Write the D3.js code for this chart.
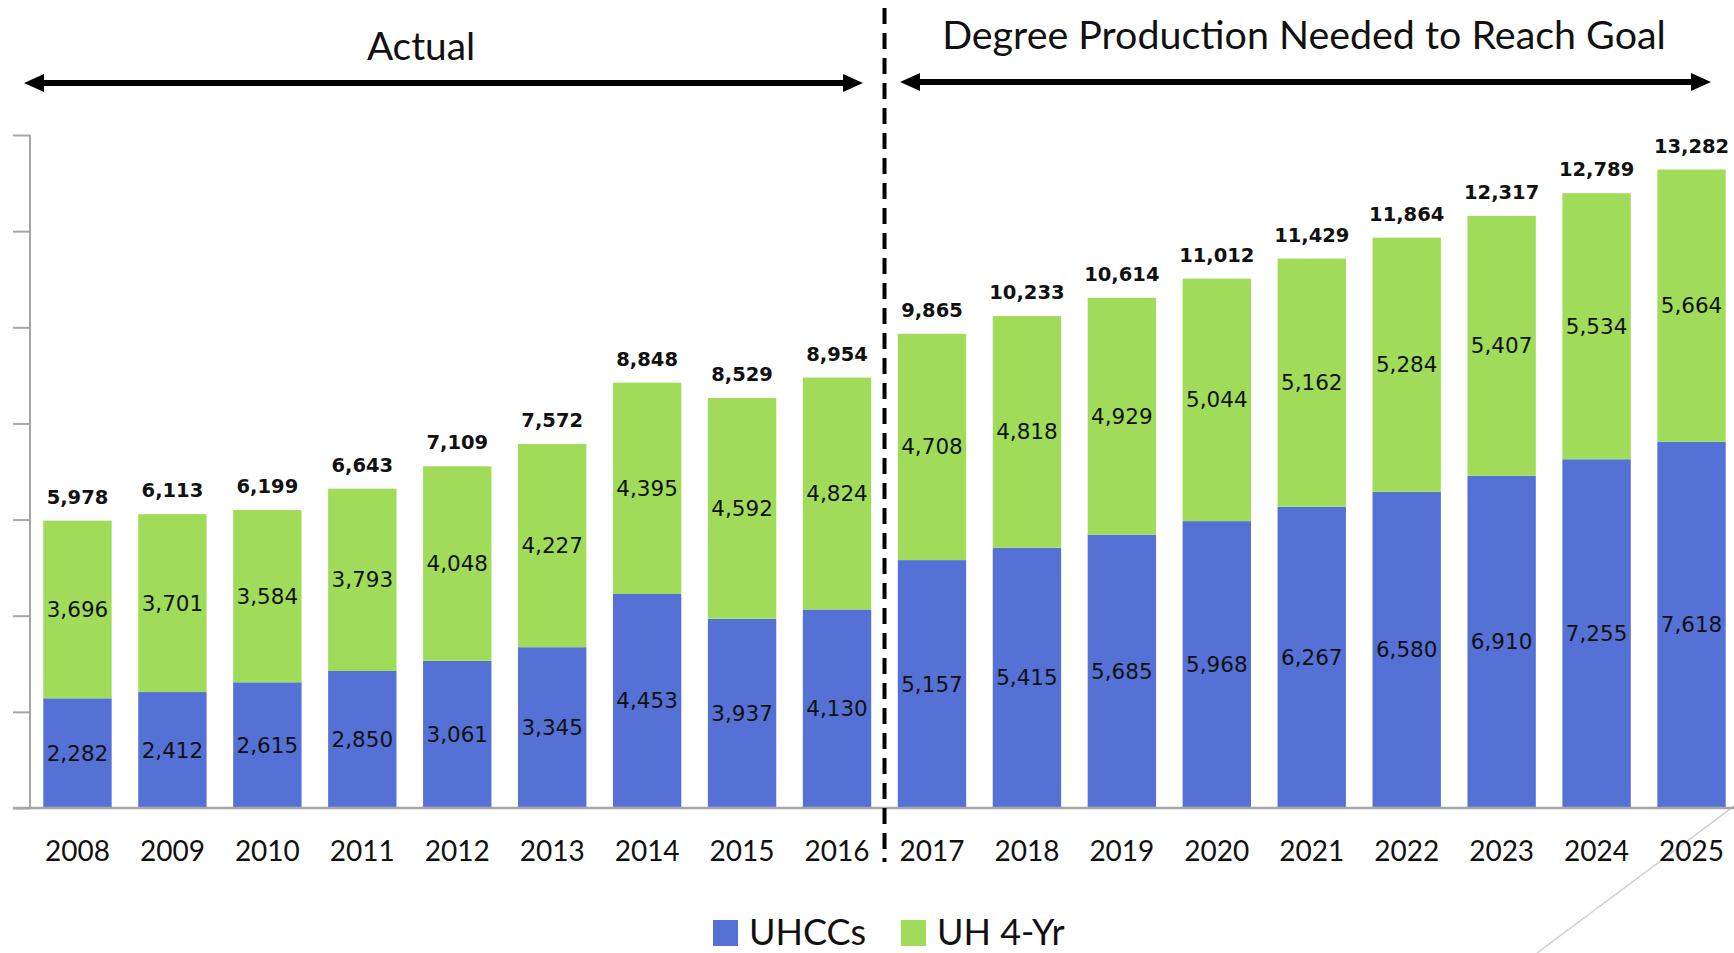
<!DOCTYPE html>
<html>
<head>
<meta charset="utf-8">
<script src="https://cdn.jsdelivr.net/npm/d3@7/dist/d3.min.js"></script>
<style>
  html, body { margin: 0; padding: 0; background: #ffffff; }
  svg { display: block; }
</style>
</head>
<body>
<svg id="chart" width="1734" height="953"></svg>
<script>
// ---- Data ----
const years = ["2008","2009","2010","2011","2012","2013","2014","2015","2016",
               "2017","2018","2019","2020","2021","2022","2023","2024","2025"];
const uhccs = [2282,2412,2615,2850,3061,3345,4453,3937,4130,
               5157,5415,5685,5968,6267,6580,6910,7255,7618];
const uh4yr = [3696,3701,3584,3793,4048,4227,4395,4592,4824,
               4708,4818,4929,5044,5162,5284,5407,5534,5664];
const totals = [5978,6113,6199,6643,7109,7572,8848,8529,8954,
                9865,10233,10614,11012,11429,11864,12317,12789,13282];
const yTicks = [0,2000,4000,6000,8000,10000,12000,14000];
const seriesNames = ["UHCCs","UH 4-Yr"];
const sectionLabels = ["Actual","Degree Production Needed to Reach Goal"];
const splitAfter = "2016";

// ---- Styles ----
const colors = { "UHCCs": "#5571d5", "UH 4-Yr": "#a0dc5a" };
const axisColor = "#a6a6a6";
const headFont = "Lato, 'Open Sans', sans-serif";
const valFont = "'DejaVu Sans', Verdana, sans-serif";

const svg = d3.select("#chart");

const x = d3.scaleBand().domain(years).range([30, 1739])
  .paddingInner(0.28).paddingOuter(0.14);
const y = d3.scaleLinear().domain([0, 14000]).range([808, 135]);

const rows = years.map((yr, i) => ({ year: yr, "UHCCs": uhccs[i], "UH 4-Yr": uh4yr[i], total: totals[i] }));
const stack = d3.stack().keys(seriesNames)(rows);

// decorative diagonal
svg.append("line").attr("x1", 1734).attr("y1", 806).attr("x2", 1537).attr("y2", 953)
  .attr("stroke", "#cfcfcf").attr("stroke-width", 1.5);

// bars
const g = svg.append("g");
stack.forEach(layer => {
  g.append("g").selectAll("rect").data(layer).join("rect")
    .attr("x", d => x(d.data.year))
    .attr("width", x.bandwidth())
    .attr("y", d => y(d[1]))
    .attr("height", d => y(d[0]) - y(d[1]))
    .attr("fill", colors[layer.key]);
  g.append("g").selectAll("text").data(layer).join("text")
    .attr("x", d => x(d.data.year) + x.bandwidth() / 2)
    .attr("y", d => (y(d[0]) + y(d[1])) / 2)
    .attr("text-anchor", "middle")
    .attr("dominant-baseline", "central")
    .attr("font-family", valFont)
    .attr("font-size", 21.5)
    .attr("fill", "#111")
    .text(d => d3.format(",")(d.data[layer.key]));
});

// totals
g.append("g").selectAll("text").data(rows).join("text")
  .attr("x", d => x(d.year) + x.bandwidth() / 2)
  .attr("y", d => y(d.total) - 17)
  .attr("text-anchor", "middle")
  .attr("font-family", valFont)
  .attr("font-weight", "bold")
  .attr("font-size", 19.5)
  .attr("fill", "#111")
  .text(d => d3.format(",")(d.total));

// y axis (no labels)
const yAxis = svg.append("g").attr("transform", "translate(30,0)")
  .call(d3.axisLeft(y).tickValues(yTicks).tickSize(17).tickFormat(""));
yAxis.select(".domain").remove();
yAxis.selectAll(".tick line").attr("stroke", axisColor).attr("stroke-width", 2);
svg.append("line").attr("x1", 30).attr("x2", 30).attr("y1", y(14000)).attr("y2", y(0))
  .attr("stroke", axisColor).attr("stroke-width", 2);

// x axis
const xAxis = svg.append("g").attr("transform", `translate(0,${y(0)})`)
  .call(d3.axisBottom(x).tickSize(0).tickPadding(0));
xAxis.select(".domain").remove();
xAxis.selectAll(".tick text")
  .attr("y", 53)
  .attr("dy", 0)
  .attr("font-family", headFont)
  .attr("font-size", 28)
  .attr("fill", "#111");
svg.append("line").attr("x1", 13).attr("x2", 1734).attr("y1", y(0)).attr("y2", y(0))
  .attr("stroke", axisColor).attr("stroke-width", 2.5);

// dashed divider
const divX = (x(splitAfter) + x.bandwidth() + x(years[years.indexOf(splitAfter) + 1])) / 2;
svg.append("line").attr("x1", divX).attr("x2", divX).attr("y1", 8).attr("y2", 862)
  .attr("stroke", "#000").attr("stroke-width", 4).attr("stroke-dasharray", "16,9");

// double arrows
function dblArrow(x1, x2, yy) {
  const hl = 20, hw = 9, sw = 6;
  svg.append("line").attr("x1", x1 + hl - 2).attr("x2", x2 - hl + 2).attr("y1", yy).attr("y2", yy)
    .attr("stroke", "#000").attr("stroke-width", sw);
  svg.append("path").attr("d", `M${x1},${yy} L${x1 + hl},${yy - hw} L${x1 + hl},${yy + hw} Z`).attr("fill", "#000");
  svg.append("path").attr("d", `M${x2},${yy} L${x2 - hl},${yy - hw} L${x2 - hl},${yy + hw} Z`).attr("fill", "#000");
}
dblArrow(24, 863, 83);
dblArrow(900, 1711, 82);

svg.append("text").attr("x", 421).attr("y", 60).attr("text-anchor", "middle")
  .attr("font-family", headFont).attr("font-size", 38.8).attr("fill", "#111").text(sectionLabels[0]);
svg.append("text").attr("x", 1304).attr("y", 49).attr("text-anchor", "middle")
  .attr("font-family", headFont).attr("font-size", 39.4).attr("fill", "#111").text(sectionLabels[1]);

// legend
const legX = [713, 901];
seriesNames.forEach((s, i) => {
  svg.append("rect").attr("x", legX[i]).attr("y", 920).attr("width", 25).attr("height", 26)
    .attr("fill", colors[s]);
  svg.append("text").attr("x", legX[i] + 36).attr("y", 945)
    .attr("font-family", headFont).attr("font-size", 36).attr("fill", "#111").text(s);
});
</script>
</body>
</html>
